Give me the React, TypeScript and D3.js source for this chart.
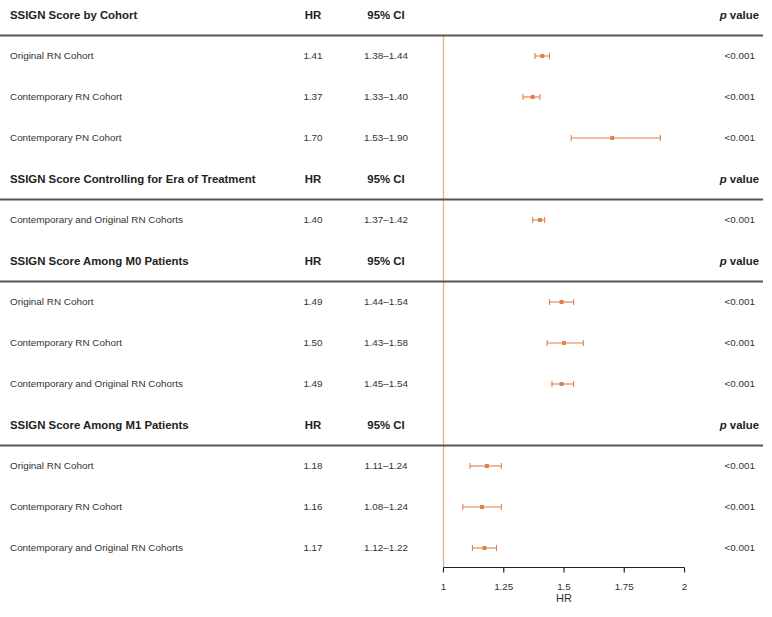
import React from "react";
import * as d3 from "d3";

const groupTitles = [
  "SSIGN Score by Cohort",
  "SSIGN Score Controlling for Era of Treatment",
  "SSIGN Score Among M0 Patients",
  "SSIGN Score Among M1 Patients",
];
const rowGroup = [0, 0, 0, 1, 2, 2, 2, 3, 3, 3];
const rowLabels = [
  "Original RN Cohort",
  "Contemporary RN Cohort",
  "Contemporary PN Cohort",
  "Contemporary and Original RN Cohorts",
  "Original RN Cohort",
  "Contemporary RN Cohort",
  "Contemporary and Original RN Cohorts",
  "Original RN Cohort",
  "Contemporary RN Cohort",
  "Contemporary and Original RN Cohorts",
];
const hr = [1.41, 1.37, 1.7, 1.4, 1.49, 1.5, 1.49, 1.18, 1.16, 1.17];
const lo = [1.38, 1.33, 1.53, 1.37, 1.44, 1.43, 1.45, 1.11, 1.08, 1.12];
const hi = [1.44, 1.4, 1.9, 1.42, 1.54, 1.58, 1.54, 1.24, 1.24, 1.22];
const pvals = ["<0.001", "<0.001", "<0.001", "<0.001", "<0.001", "<0.001", "<0.001", "<0.001", "<0.001", "<0.001"];
const xTicks = [1, 1.25, 1.5, 1.75, 2];

const W = 772;
const H = 617;
const FONT = "'Liberation Sans', Arial, Helvetica, sans-serif";
const ORANGE = "#e0804a";
const REF = "#dcb784";

export default function App() {
  const x = d3.scaleLinear().domain([1, 2]).range([443.5, 684.5]);
  const step = 41;
  const y0 = 15;
  type Line = { kind: "header"; g: number; y: number } | { kind: "row"; i: number; y: number };
  const lines: Line[] = [];
  let k = 0;
  let prevG = -1;
  rowLabels.forEach((_, i) => {
    if (rowGroup[i] !== prevG) {
      lines.push({ kind: "header", g: rowGroup[i], y: y0 + k * step });
      k++;
      prevG = rowGroup[i];
    }
    lines.push({ kind: "row", i, y: y0 + k * step });
    k++;
  });
  const axisY = 567.5;
  const hrX = 313;
  const ciX = 386;
  const pX = 755;
  const pHX = 759;
  const fmt = (v: number) => v.toFixed(2);
  const HF = 11.4;
  const RF = 9.9;

  return (
    <svg width={W} height={H} style={{ position: "absolute", left: 0, top: 0 }} fontFamily={FONT}>
      <rect width={W} height={H} fill="#fff" />
      <line x1={x(1)} x2={x(1)} y1={35} y2={axisY} stroke={REF} strokeWidth={1.3} />
      {lines.map((l, j) => {
        if (l.kind === "header") {
          return (
            <g key={j}>
              <text x={10} y={l.y} dy="0.35em" fontSize={HF} fontWeight="bold" fill="#222">
                {groupTitles[l.g]}
              </text>
              <text x={hrX} y={l.y} dy="0.35em" fontSize={HF} fontWeight="bold" textAnchor="middle" fill="#222">
                HR
              </text>
              <text x={ciX} y={l.y} dy="0.35em" fontSize={HF} fontWeight="bold" textAnchor="middle" fill="#222">
                95% CI
              </text>
              <text x={pHX} y={l.y} dy="0.35em" fontSize={HF} fontWeight="bold" textAnchor="end" fill="#222">
                <tspan fontStyle="italic">p</tspan> value
              </text>
              <line x1={0} x2={763} y1={l.y + 20.5} y2={l.y + 20.5} stroke="#555" strokeWidth={2} />
            </g>
          );
        }
        const i = l.i;
        return (
          <g key={j}>
            <text x={10} y={l.y} dy="0.35em" fontSize={RF} fill="#333">
              {rowLabels[i]}
            </text>
            <text x={hrX} y={l.y} dy="0.35em" fontSize={RF} textAnchor="middle" fill="#333">
              {fmt(hr[i])}
            </text>
            <text x={ciX} y={l.y} dy="0.35em" fontSize={RF} textAnchor="middle" fill="#333">
              {fmt(lo[i])}–{fmt(hi[i])}
            </text>
            <text x={pX} y={l.y} dy="0.35em" fontSize={RF} textAnchor="end" fill="#333">
              {pvals[i]}
            </text>
            <line x1={x(lo[i])} x2={x(hi[i])} y1={l.y} y2={l.y} stroke={ORANGE} strokeWidth={1.1} />
            <line x1={x(lo[i])} x2={x(lo[i])} y1={l.y - 3} y2={l.y + 3} stroke={ORANGE} strokeWidth={1.1} />
            <line x1={x(hi[i])} x2={x(hi[i])} y1={l.y - 3} y2={l.y + 3} stroke={ORANGE} strokeWidth={1.1} />
            <rect x={x(hr[i]) - 2} y={l.y - 2} width={4} height={4} fill={ORANGE} />
          </g>
        );
      })}
      <line x1={x(1)} x2={x(2)} y1={axisY} y2={axisY} stroke="#222" strokeWidth={1.2} />
      {xTicks.map((t) => (
        <g key={t}>
          <line x1={x(t)} x2={x(t)} y1={axisY} y2={axisY + 5} stroke="#222" strokeWidth={1.2} />
          <text x={x(t)} y={axisY + 19} dy="0.35em" fontSize={RF} textAnchor="middle" fill="#333">
            {String(t)}
          </text>
        </g>
      ))}
      <text x={x(1.5)} y={axisY + 31} dy="0.35em" fontSize={11} textAnchor="middle" fill="#333">
        HR
      </text>
    </svg>
  );
}
